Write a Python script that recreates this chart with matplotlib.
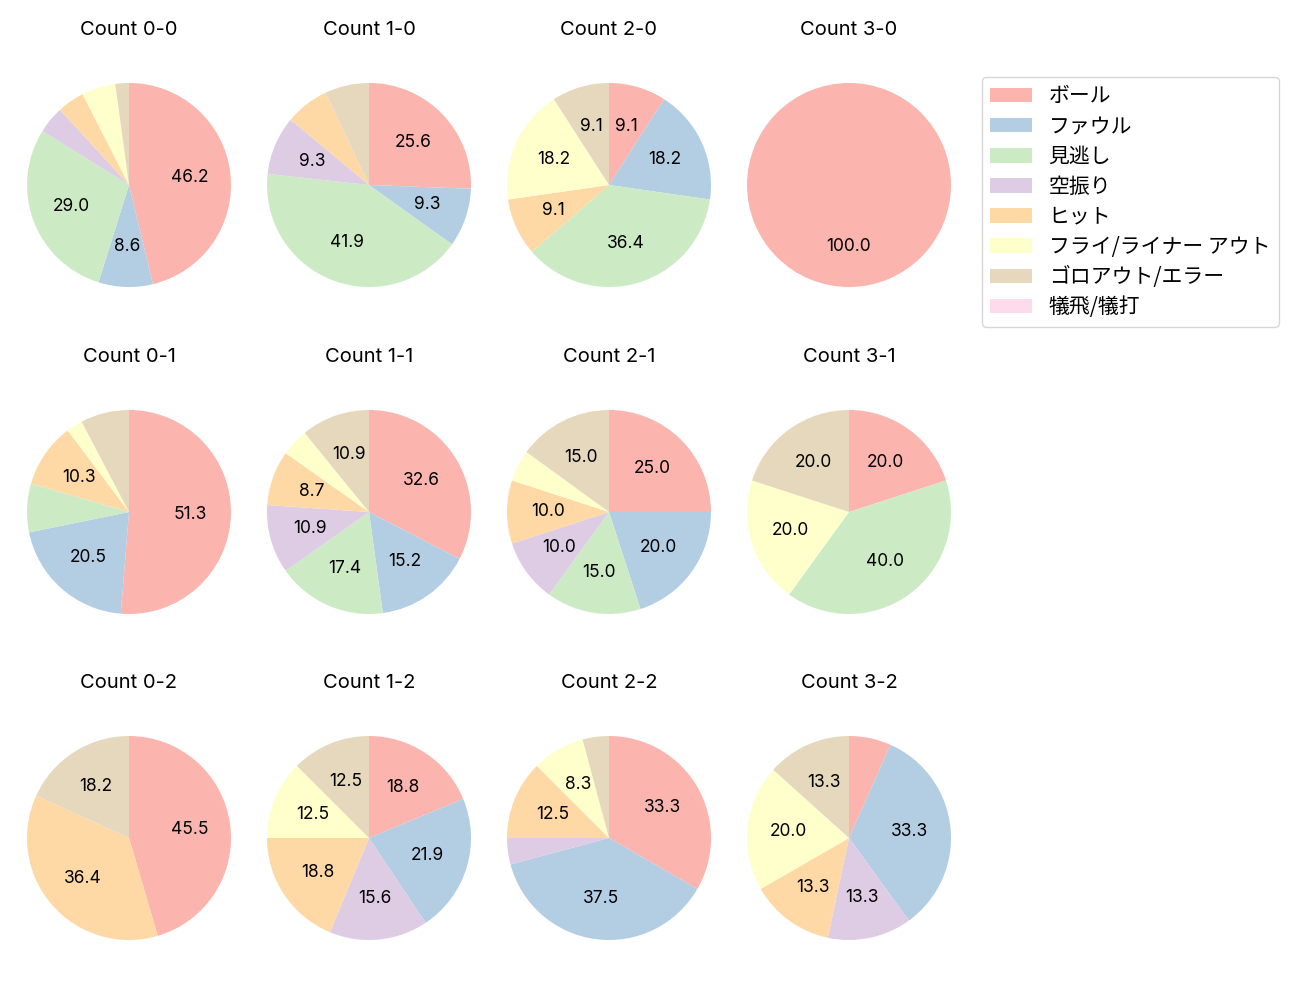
import matplotlib
matplotlib.use("Agg")
import matplotlib.pyplot as plt
from matplotlib.patches import Patch

plt.rcParams['font.family'] = ['Inter', 'Noto Sans CJK JP', 'DejaVu Sans']

categories = ["ボール", "ファウル", "見逃し", "空振り", "ヒット",
              "フライ/ライナー アウト", "ゴロアウト/エラー", "犠飛/犠打"]

count_titles = [["Count 0-0", "Count 1-0", "Count 2-0", "Count 3-0"],
                ["Count 0-1", "Count 1-1", "Count 2-1", "Count 3-1"],
                ["Count 0-2", "Count 1-2", "Count 2-2", "Count 3-2"]]

# pitch-result counts per ball-strike count (order = categories)
c_0_0 = [43, 8, 27, 4, 4, 5, 2, 0]
c_1_0 = [11, 4, 18, 4, 3, 0, 3, 0]
c_2_0 = [1, 2, 4, 0, 1, 2, 1, 0]
c_3_0 = [1, 0, 0, 0, 0, 0, 0, 0]
c_0_1 = [20, 8, 3, 0, 4, 1, 3, 0]
c_1_1 = [15, 7, 8, 5, 4, 2, 5, 0]
c_2_1 = [5, 4, 3, 2, 2, 1, 3, 0]
c_3_1 = [1, 0, 2, 0, 0, 1, 1, 0]
c_0_2 = [5, 0, 0, 0, 4, 0, 2, 0]
c_1_2 = [6, 7, 0, 5, 6, 4, 4, 0]
c_2_2 = [8, 9, 0, 1, 3, 2, 1, 0]
c_3_2 = [1, 5, 0, 2, 2, 3, 2, 0]

grid = [[c_0_0, c_1_0, c_2_0, c_3_0],
        [c_0_1, c_1_1, c_2_1, c_3_1],
        [c_0_2, c_1_2, c_2_2, c_3_2]]

colors = plt.get_cmap('Pastel1').colors[:8]

W, H = 1300, 1000
fig = plt.figure(figsize=(13, 10), dpi=100)

col_x = [129, 369, 609, 849]
row_y = [185, 512, 838]
S = 255

def fmt(p):
    return f"{p:.1f}" if p >= 8 else ""

for r in range(3):
    for c in range(4):
        cx, cy = col_x[c], row_y[r]
        ax = fig.add_axes([(cx - S / 2) / W, 1 - (cy + S / 2) / H, S / W, S / H])
        vals = grid[r][c]
        ax.pie(vals, colors=colors, startangle=90, counterclock=False,
               autopct=fmt, pctdistance=0.6, textprops={'fontsize': 12.5})
        ax.set_xlim(-1.25, 1.25)
        ax.set_ylim(-1.25, 1.25)
        ax.set_aspect('equal')
        ax.set_title(count_titles[r][c], fontsize=14.5, pad=16)

handles = [Patch(facecolor=colors[i], label=categories[i]) for i in range(8)]
fig.legend(handles=handles, loc='upper left',
           bbox_to_anchor=(982 / W, 1 - 77 / H), borderaxespad=0,
           prop={'family': ['Noto Sans CJK JP', 'DejaVu Sans'], 'size': 15},
           labelspacing=0.39)

fig.savefig("out.png", dpi=100)
